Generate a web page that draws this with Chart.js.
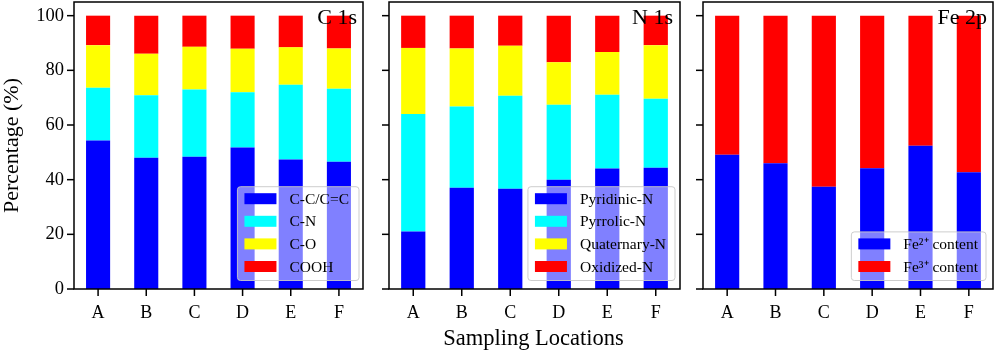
<!DOCTYPE html>
<html><head><meta charset="utf-8">
<script src="https://cdn.jsdelivr.net/npm/chart.js@4.4.0/dist/chart.umd.min.js"></script>
<style>
html,body{margin:0;padding:0;background:#fff;}
body{width:996px;height:353px;position:relative;overflow:hidden;font-family:'Liberation Serif','Times New Roman',serif;}
canvas{position:absolute;top:0;}
#xtitle{position:absolute;left:533.5px;top:338px;transform:translate(-50%,-50%);font-size:22.5px;white-space:nowrap;color:#000;line-height:1;}
</style></head>
<body>
<canvas id="k1" width="366" height="353" style="left:0px"></canvas>
<canvas id="k2" width="317" height="353" style="left:366px"></canvas>
<canvas id="k3" width="313" height="353" style="left:683px"></canvas>
<div id="xtitle">Sampling Locations</div>
<script>
// ---- data ----
const locations = ['A','B','C','D','E','F'];
const yTicks = [0,20,40,60,80,100];
const yTitle = 'Percentage (%)';

const c1sLabels = ['C-C/C=C','C-N','C-O','COOH'];
const c1sCC   = [54.3,48.0,48.4,51.8,47.4,46.6];
const c1sCN   = [19.3,22.9,24.6,20.2,27.3,26.7];
const c1sCO   = [15.6,15.2,15.6,15.9,13.7,14.7];
const c1sCOOH = [10.8,13.9,11.4,12.1,11.6,12.0];

const n1sLabels = ['Pyridinic-N','Pyrrolic-N','Quaternary-N','Oxidized-N'];
const n1sPyridinic  = [21.0,37.0,36.7,40.0,44.1,44.4];
const n1sPyrrolic   = [43.0,29.8,34.0,27.4,27.0,25.2];
const n1sQuaternary = [24.2,21.2,18.3,15.6,15.6,19.6];
const n1sOxidized   = [11.8,12.0,11.0,17.0,13.3,10.8];

const fe2pLabels = ['Fe\u00B2\u207A content','Fe\u00B3\u207A content'];
const fe2Content = [49.1,46.0,37.4,44.2,52.4,42.7];
const fe3Content = [50.9,54.0,62.6,55.8,47.6,57.3];

const colors4 = ['#0000ff','#00ffff','#ffff00','#ff0000'];
const colors2 = ['#0000ff','#ff0000'];
const FONT = "'Liberation Serif','Times New Roman',serif";
const TICK_LEN = 7;

const panelPlugin = {
  id:'panel',
  afterDatasetsDraw(chart){
    const o = chart.options.plugins.panel;
    const ctx = chart.ctx, a = chart.chartArea;
    ctx.save();
    const ds = chart.data.datasets;
    ctx.font = '15.5px ' + FONT;
    let tw = 0;
    ds.forEach(d=>{ tw = Math.max(tw, ctx.measureText(d.label).width); });
    const n = ds.length, sp = 22.6;
    const bw = 7 + 32 + 13 + tw + o.lpad;
    const bh = 12 + (n-1)*sp + 14;
    const right = a.right - o.lmargin, bottom = a.bottom - 8.5;
    const left = right - bw, top = bottom - bh;
    const r = 3;
    ctx.beginPath();
    ctx.moveTo(left+r, top);
    ctx.lineTo(right-r, top); ctx.quadraticCurveTo(right, top, right, top+r);
    ctx.lineTo(right, bottom-r); ctx.quadraticCurveTo(right, bottom, right-r, bottom);
    ctx.lineTo(left+r, bottom); ctx.quadraticCurveTo(left, bottom, left, bottom-r);
    ctx.lineTo(left, top+r); ctx.quadraticCurveTo(left, top, left+r, top);
    ctx.closePath();
    ctx.fillStyle = 'rgba(255,255,255,0.5)';
    ctx.fill();
    ctx.strokeStyle = 'rgba(200,200,200,0.9)';
    ctx.lineWidth = 1;
    ctx.stroke();
    ds.forEach((d,i)=>{
      const cy = top + 12 + i*sp;
      ctx.fillStyle = d.backgroundColor;
      ctx.fillRect(left+7, cy-5.5, 32, 11);
      ctx.fillStyle = '#000';
      ctx.textBaseline = 'middle';
      ctx.textAlign = 'left';
      ctx.fillText(d.label, left+7+32+13, cy+1);
    });
    ctx.font = '22px ' + FONT;
    ctx.fillStyle = '#000';
    ctx.textAlign = 'right';
    ctx.textBaseline = 'alphabetic';
    ctx.fillText(o.title, a.right - o.tmargin, 24);
    ctx.restore();
  },
  afterDraw(chart){
    const ctx = chart.ctx, a = chart.chartArea;
    const xs = chart.scales.x, ys = chart.scales.y;
    const o = chart.options.plugins.panel;
    ctx.save();
    ctx.strokeStyle = '#000';
    ctx.fillStyle = '#000';
    ctx.lineWidth = 1.5;
    for (let i = 0; i < locations.length; i++) {
      const px = xs.getPixelForValue(i);
      ctx.fillRect(px - 0.75, a.bottom, 1.5, TICK_LEN);
    }
    yTicks.forEach((v)=>{
      const py = ys.getPixelForValue(v);
      ctx.fillRect(a.left - TICK_LEN, py - 0.75, TICK_LEN, 1.5);
    });
    ctx.strokeRect(a.left, a.top, a.right - a.left, a.bottom - a.top);
    if (o.yTitle) {
      ctx.translate(12.5, (a.top + a.bottom) / 2);
      ctx.rotate(-Math.PI / 2);
      ctx.font = '22px ' + FONT;
      ctx.textAlign = 'center';
      ctx.textBaseline = 'middle';
      ctx.fillText(o.yTitle, 0, 0);
    }
    ctx.restore();
  }
};

function makePanel(id, labels, series, cols, title, yWidth, showY, lpad, lmargin, tmargin){
  const datasets = series.map((s,i)=>({
    label: labels[i], data: s, backgroundColor: cols[i], borderWidth:0,
    categoryPercentage:1.0, barPercentage:0.5
  }));
  const gridOpt = {display:false, drawOnChartArea:false, drawTicks:false};
  new Chart(document.getElementById(id), {
    type:'bar',
    data:{labels: locations, datasets},
    options:{
      responsive:false, animation:false, devicePixelRatio:1,
      layout:{padding:{top:2, right:3, left:0, bottom:0}},
      plugins:{legend:{display:false}, tooltip:{enabled:false},
        panel:{title, lpad, lmargin, tmargin, yTitle: showY ? yTitle : ''}},
      scales:{
        x:{stacked:true, offset:true, grid:gridOpt, border:{display:false},
           ticks:{font:{family:FONT,size:18}, color:'#000', padding:6 + TICK_LEN, maxRotation:0},
           afterFit(s){ s.height = 64; s.paddingLeft = 0; s.paddingRight = 0; }},
        y:{stacked:true, min:0, max:105, grid:gridOpt, border:{display:false},
           afterBuildTicks(s){ s.ticks = yTicks.map(v=>({value:v})); },
           ticks:{font:{family:FONT,size:18.5}, color:'#000', padding:3 + TICK_LEN,
             callback:(v)=> showY ? String(v) : ''},
           afterFit(s){ s.width = yWidth; s.paddingTop = 0; s.paddingBottom = 0; }}
      }
    },
    plugins:[panelPlugin]
  });
}

makePanel('k1', c1sLabels, [c1sCC,c1sCN,c1sCO,c1sCOOH], colors4, 'C 1s', 74, true, 10, 4, 6);
makePanel('k2', n1sLabels, [n1sPyridinic,n1sPyrrolic,n1sQuaternary,n1sOxidized], colors4, 'N 1s', 23, false, 9, 5, 7);
makePanel('k3', fe2pLabels, [fe2Content,fe3Content], colors2, 'Fe 2p', 20, false, 8, 7, 6);
</script>
</body></html>
